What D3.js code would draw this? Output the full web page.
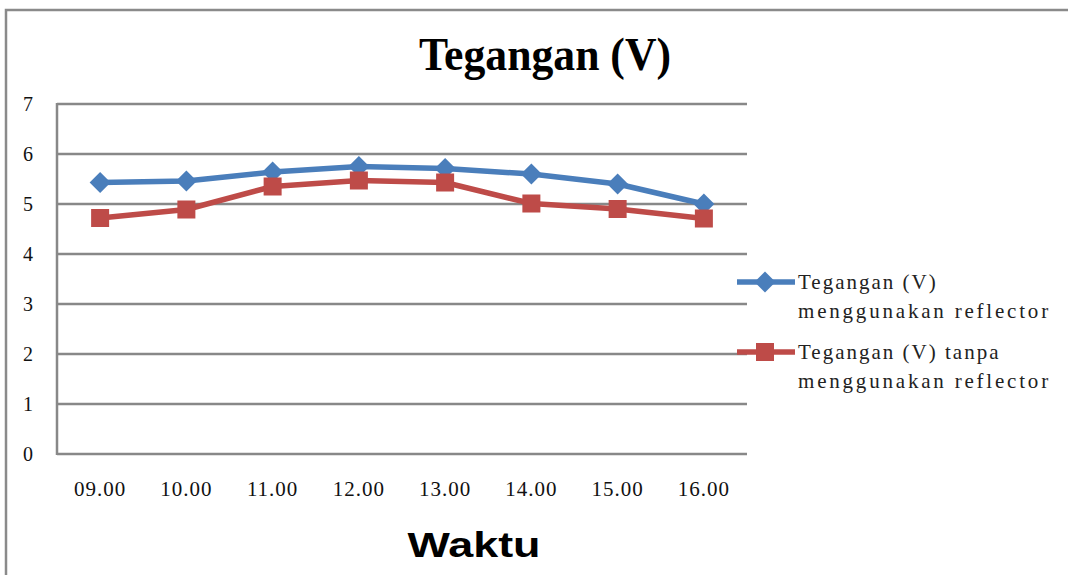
<!DOCTYPE html>
<html><head><meta charset="utf-8">
<script src="https://cdn.jsdelivr.net/npm/d3@7"></script>
<style>body{margin:0;background:#fff}svg{display:block}</style>
</head><body>
<script>
const categories = ["09.00","10.00","11.00","12.00","13.00","14.00","15.00","16.00"];
const withReflector = [5.43,5.46,5.64,5.75,5.71,5.60,5.40,5.00];
const withoutReflector = [4.72,4.89,5.35,5.47,5.43,5.01,4.90,4.71];
const yTicks = [0,1,2,3,4,5,6,7];
const seriesNames = [["Tegangan (V)","menggunakan reflector"],["Tegangan (V) tanpa","menggunakan reflector"]];
const title = "Tegangan (V)";
const xTitle = "Waktu";

(function(){
const W = 1068, H = 575;
const svg = d3.select("body").append("svg").attr("width", W).attr("height", H);

// outer frame
svg.append("path").attr("d", "M6,575 L6,10 L1068,10").attr("fill","none").attr("stroke","#8a8a8a").attr("stroke-width",2.5);

const pl = 57, pr = 747, pt = 104, pb = 454;
const x = d3.scaleBand().domain(categories).range([pl, pr]);
const y = d3.scaleLinear().domain([0,7]).range([pb, pt]);

// gridlines
svg.append("g").selectAll("line").data(yTicks).join("line")
  .attr("x1", pl).attr("x2", pr).attr("y1", d=>y(d)).attr("y2", d=>y(d))
  .attr("stroke","#888").attr("stroke-width",2.5);
svg.append("line").attr("x1",pl).attr("x2",pl).attr("y1",pt-1).attr("y2",pb+1)
  .attr("stroke","#888").attr("stroke-width",2.5);

// y labels
svg.append("g").selectAll("text").data(yTicks).join("text")
  .attr("x", 28).attr("y", d=>y(d)).attr("dy","0.35em").attr("text-anchor","middle")
  .attr("font-family","Liberation Serif").attr("font-size",20).attr("fill","#111").text(d=>d);

// x labels
svg.append("g").selectAll("text").data(categories).join("text")
  .attr("x", d=>x(d)+x.bandwidth()/2).attr("y", 489).attr("dy","0.35em").attr("text-anchor","middle")
  .attr("font-family","Liberation Serif").attr("font-size",21).attr("letter-spacing",1).attr("fill","#111").text(d=>d);

const cx = d => x(d)+x.bandwidth()/2;
const line = d3.line().x((d,i)=>cx(categories[i])).y(d=>y(d));
const colors = ["#4A7EBB","#BE4B48"];
const data = [withReflector, withoutReflector];

data.forEach((s,k)=>{
  svg.append("path").datum(s).attr("d", line).attr("fill","none")
    .attr("stroke", colors[k]).attr("stroke-width",5.5).attr("stroke-linejoin","round");
});
const diamond = (cxp, cyp, r) => `M${cxp},${cyp-r} L${cxp+r},${cyp} L${cxp},${cyp+r} L${cxp-r},${cyp} Z`;
svg.append("g").selectAll("path").data(withReflector).join("path")
  .attr("d",(d,i)=>diamond(cx(categories[i]), y(d), 10.5)).attr("fill",colors[0]);
svg.append("g").selectAll("rect").data(withoutReflector).join("rect")
  .attr("x",(d,i)=>cx(categories[i])-9).attr("y",d=>y(d)-9).attr("width",18).attr("height",18).attr("fill",colors[1]);

// title
svg.append("text").attr("x",545).attr("y",70).attr("text-anchor","middle")
  .attr("font-family","Liberation Serif").attr("font-weight","bold").attr("font-size",46)
  .attr("textLength",252).attr("lengthAdjust","spacingAndGlyphs").attr("fill","#000").text(title);

// x title
svg.append("text").attr("x",474).attr("y",557).attr("text-anchor","middle")
  .attr("font-family","Liberation Sans").attr("font-weight","bold").attr("font-size",35)
  .attr("textLength",133).attr("lengthAdjust","spacingAndGlyphs").attr("fill","#000").text(xTitle);

// legend
const legY = [282, 352];
legY.forEach((ly,k)=>{
  svg.append("line").attr("x1",737).attr("x2",795).attr("y1",ly).attr("y2",ly)
    .attr("stroke",colors[k]).attr("stroke-width",5.5);
  if(k===0) svg.append("path").attr("d",diamond(765,ly,10.5)).attr("fill",colors[0]);
  else svg.append("rect").attr("x",756).attr("y",ly-9).attr("width",18).attr("height",18).attr("fill",colors[1]);
  seriesNames[k].forEach((t,j)=>{
    svg.append("text").attr("x",798).attr("y",ly+j*29).attr("dy","0.35em")
      .attr("font-family","Liberation Serif").attr("font-size",21).attr("letter-spacing",j===1?2.8:2)
      .attr("fill","#222").text(t);
  });
});
})();
</script>
</body></html>
